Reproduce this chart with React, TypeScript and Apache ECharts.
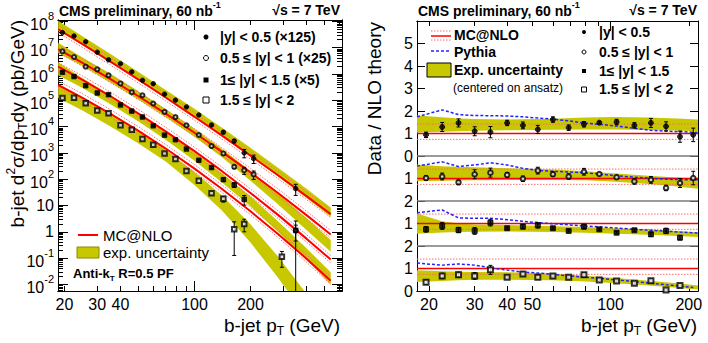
import React, { useEffect, useRef } from 'react';
import * as echarts from 'echarts';

// ---------------- data ----------------
// pT bin centres (GeV)
const binPt = [19.5, 22.5, 26, 30, 34.5, 40, 46, 52.5, 60, 69, 79, 90.5, 105.5, 123.5, 143, 163.5, 185, 208];

// Left panel: b-jet cross sections (pb/GeV), scaled as in legend
const ptS1 = [19.5, 22.5, 26, 30, 34.5, 40, 46, 52.5, 60, 69, 79, 90.5, 105.5, 123.5, 143, 163.5, 185, 208, 350];
const xsS1 = [3.74e7, 2.77e7, 1.67e7, 6.68e6, 3.44e6, 2.46e6, 1.2e6, 5.73e5, 4.25e5, 1.71e5, 1.01e5, 5.57e4, 2.75e4, 1.15e4, 6.1e3, 2.82e3, 998, 607, 44];
const errS1 = [0.05, 0.06, 0.06, 0.08, 0.08, 0.06, 0.08, 0.08, 0.06, 0.08, 0.08, 0.06, 0.08, 0.1, 0.12, 0.15, 0.35, 0.35, 0.45];

const ptS2 = [19.5, 22.5, 26, 30, 34.5, 40, 46, 52.5, 60, 69, 79, 90.5, 105.5, 123.5, 143, 163.5, 185, 208, 350];
const xsS2 = [7.23e6, 4.41e6, 1.88e6, 1.5e6, 8.85e5, 4.36e5, 2.03e5, 1.55e5, 7.52e4, 3.62e4, 2.3e4, 1.12e4, 4.78e3, 1.81e3, 948, 296, 218, 151, 1.12];
const errS2 = [0.05, 0.06, 0.06, 0.08, 0.08, 0.06, 0.08, 0.08, 0.06, 0.08, 0.08, 0.06, 0.06, 0.1, 0.12, 0.15, 0.3, 0.35, 1.3];

const ptS3 = [19.5, 22.5, 26, 30, 34.5, 40, 46, 52.5, 60, 69, 79, 90.5, 105.5, 123.5, 143, 163.5, 185, 350];
const xsS3 = [1.15e6, 7.94e5, 3.57e5, 1.89e5, 1.63e5, 6.61e4, 3.87e4, 2.31e4, 1.07e4, 4.72e3, 3.16e3, 1.4e3, 524, 276, 96, 60.5, 17.1, 1.12];
const errS3 = [0.08, 0.08, 0.08, 0.1, 0.1, 0.06, 0.08, 0.08, 0.06, 0.06, 0.08, 0.06, 0.08, 0.1, 0.15, 0.2, 0.4, 0.6];

const ptS4 = [19.5, 22.5, 26, 30, 34.5, 40, 46, 52.5, 60, 69, 79, 90.5, 105.5, 123.5, 143, 163.5, 185, 295];
const xsS4 = [1.23e5, 1.25e5, 7.67e4, 4.06e4, 3.21e4, 1.12e4, 7.59e3, 3.39e3, 2.02e3, 951, 583, 203, 86.5, 29.5, 17.9, 1.26, 2.0, 0.112];
const errS4 = [0.1, 0.1, 0.1, 0.12, 0.12, 0.06, 0.08, 0.1, 0.08, 0.08, 0.12, 0.1, 0.1, 0.15, 0.25, 0.9, 0.5, 0.6];

// MC@NLO predictions (scaled) at curve nodes
const mcPt = [18.5, 25, 35, 50, 70, 100, 140, 200, 280, 400, 540];
const mcS1 = [5.0e7, 1.36e7, 3.05e6, 6.07e5, 1.27e5, 2.35e4, 4.6e3, 785, 144, 22.7, 4.7];
const mcS2 = [8.7e6, 2.65e6, 6.6e5, 1.42e5, 3.1e4, 5.8e3, 1.12e3, 182, 30.6, 4.3, 0.79];
const mcS3 = [1.9e6, 5.9e5, 1.48e5, 3.12e4, 6.6e3, 1.16e3, 206, 30, 4.5, 0.55, 0.088];
const mcS4 = [3.8e5, 1.24e5, 3.2e4, 6.9e3, 1.46e3, 252, 43.5, 6.0, 0.85, 0.095, 0.0138];
// MC@NLO theory uncertainty (dotted lines), relative
const mcUncUp = 1.42;
const mcUncDown = 0.74;

// Left panel exp. uncertainty band, relative to MC@NLO at mcPt nodes
const bandLoS1 = [0.85, 0.95, 0.95, 0.95, 0.95, 0.95, 0.95, 0.95, 0.9, 0.85, 0.8];
const bandHiS1 = [2.1, 2.0, 1.95, 1.95, 1.95, 2.0, 2.0, 2.0, 1.95, 1.9, 1.8];
const bandLoS2 = [0.72, 0.75, 0.75, 0.75, 0.75, 0.7, 0.62, 0.48, 0.37, 0.27, 0.22];
const bandHiS2 = [1.75, 1.6, 1.6, 1.55, 1.5, 1.42, 1.3, 1.12, 0.95, 0.78, 0.62];
const bandLoS3 = [0.47, 0.5, 0.5, 0.5, 0.48, 0.43, 0.37, 0.31, 0.23, 0.16, 0.11];
const bandHiS3 = [1.45, 1.15, 1.1, 1.05, 1.0, 0.92, 0.84, 0.74, 0.57, 0.43, 0.33];
const bandLoS4 = [0.32, 0.33, 0.33, 0.33, 0.32, 0.24, 0.15, 0.065, 0.022, 0.006, 0.0012];
const bandHiS4 = [1.0, 1.0, 0.98, 0.95, 0.9, 0.75, 0.56, 0.32, 0.14, 0.046, 0.018];

// Right panel: Data / NLO ratios
const ratio1 = [0.94, 1.29, 1.47, 1.10, 1.06, 1.47, 1.36, 1.18, 1.62, 1.26, 1.41, 1.48, 1.51, 1.36, 1.47, 1.32, 0.86, 0.94];
const ratioErr1 = [0.12, 0.2, 0.18, 0.2, 0.25, 0.12, 0.15, 0.18, 0.12, 0.12, 0.12, 0.06, 0.12, 0.12, 0.2, 0.2, 0.25, 0.3];
const ratio2 = [1.02, 1.09, 0.83, 1.19, 1.26, 1.16, 0.99, 1.35, 1.19, 1.09, 1.30, 1.20, 1.06, 0.87, 0.94, 0.58, 0.80, 1.02];
const ratioErr2 = [0.1, 0.15, 0.1, 0.2, 0.2, 0.1, 0.12, 0.15, 0.1, 0.12, 0.15, 0.05, 0.05, 0.12, 0.15, 0.12, 0.2, 0.3];
const ratio3 = [0.74, 0.89, 0.71, 0.67, 1.04, 0.79, 0.86, 0.92, 0.79, 0.67, 0.86, 0.74, 0.59, 0.70, 0.52, 0.67, 0.37];
const ratioErr3 = [0.12, 0.15, 0.12, 0.15, 0.15, 0.05, 0.1, 0.12, 0.05, 0.05, 0.1, 0.05, 0.05, 0.05, 0.1, 0.12, 0.1];
const ratio4 = [0.39, 0.67, 0.72, 0.67, 0.94, 0.61, 0.76, 0.61, 0.67, 0.61, 0.72, 0.49, 0.45, 0.35, 0.46, 0.04, 0.24];
const ratioErr4 = [0.1, 0.12, 0.12, 0.15, 0.2, 0.05, 0.08, 0.1, 0.05, 0.05, 0.1, 0.05, 0.05, 0.05, 0.08, 0.05, 0.08];

// Pythia / NLO
const pythiaPt = [18, 22.5, 26, 30, 34.5, 40, 46, 52.5, 60, 69, 79, 90.5, 105.5, 123.5, 143, 163.5, 185, 208, 217];
const pythia1 = [1.74, 2.05, 1.84, 1.8, 1.79, 1.78, 1.74, 1.69, 1.64, 1.56, 1.47, 1.41, 1.33, 1.23, 1.14, 1.1, 1.08, 1.06, 1.05];
const pythia2 = [1.55, 1.74, 1.53, 1.6, 1.7, 1.6, 1.45, 1.36, 1.32, 1.29, 1.26, 1.2, 1.12, 1.06, 1.01, 0.97, 0.95, 0.94, 0.94];
const pythia3 = [1.48, 1.6, 1.25, 1.23, 1.23, 1.17, 1.1, 1.04, 0.99, 0.94, 0.89, 0.85, 0.8, 0.74, 0.7, 0.66, 0.62, 0.59, 0.58];
const pythia4 = [1.24, 1.15, 1.2, 1.15, 1.03, 0.93, 0.84, 0.8, 0.74, 0.67, 0.62, 0.56, 0.49, 0.42, 0.35, 0.28, 0.22, 0.16];

// Right panel exp. uncertainty band (centred on ansatz)
const rBandPt = [18, 22.5, 26, 30, 40, 60, 80, 105, 140, 180, 217];
const rBandLo1 = [1.05, 1.08, 1.1, 1.12, 1.14, 1.17, 1.18, 1.18, 1.16, 1.13, 1.1];
const rBandHi1 = [1.8, 1.72, 1.67, 1.64, 1.62, 1.66, 1.71, 1.73, 1.71, 1.67, 1.62];
const rBandLo2 = [0.88, 0.9, 0.91, 0.92, 0.93, 0.93, 0.92, 0.86, 0.76, 0.65, 0.55];
const rBandHi2 = [1.62, 1.55, 1.52, 1.5, 1.46, 1.4, 1.32, 1.22, 1.12, 1.05, 1.0];
const rBandLo3 = [0.55, 0.6, 0.62, 0.63, 0.64, 0.62, 0.59, 0.55, 0.5, 0.45, 0.4];
const rBandHi3 = [1.45, 1.1, 1.0, 0.96, 0.93, 0.88, 0.84, 0.79, 0.73, 0.67, 0.6];
const rBandLo4 = [0.4, 0.45, 0.48, 0.5, 0.5, 0.48, 0.42, 0.34, 0.24, 0.14, 0.07];
const rBandHi4 = [0.92, 0.88, 0.86, 0.85, 0.83, 0.78, 0.68, 0.58, 0.46, 0.35, 0.25];

// Axis ticks / labels
const leftXLabels = [20, 30, 40, 100, 200];
const leftXMajor = [100];
const leftXMinor = [20, 30, 40, 50, 60, 70, 80, 90, 200, 300, 400, 500, 600];
const rightXLabels = [20, 30, 40, 50, 100, 200];
const rightXMajor = [100];
const rightXMinor = [20, 30, 40, 50, 60, 70, 80, 90, 200];
const leftYDecades = [-2, -1, 0, 1, 2, 3, 4, 5, 6, 7, 8];
const ratioPanelLabels = ['0', '1', '2', '1', '2', '1', '0', '1', '2', '3', '4', '5', ''];

// ---------------- helpers ----------------
const L = Math.log10;
const FONT = "'Liberation Sans', Arial, Helvetica, sans-serif";
const YELLOW = '#c8c800';
const RED = '#ff0000';
const PINK = '#ff6a6a';
const BLUE = '#2222ff';

const LX_MIN = 1.2661, LX_MAX = 2.793, LY_MIN = -2.25, LY_MAX = 8.05;
const RX_MIN = L(18), RX_MAX = L(217);

function lineSeries(xi: number, yi: number, pts: number[][], color: string, width: number, type: any, z = 3) {
  return {
    type: 'line', xAxisIndex: xi, yAxisIndex: yi, data: pts, symbol: 'none', showSymbol: false,
    silent: true, clip: true, z, lineStyle: { color, width, type }, animation: false,
  };
}

function bandSeries(xi: number, yi: number, pts: number[][], color: string) {
  return {
    type: 'custom', xAxisIndex: xi, yAxisIndex: yi, clip: true, silent: true, z: 1,
    data: [[pts[1][0], pts[1][1]]],
    renderItem: (_p: any, api: any) => {
      const up = pts.map((p) => api.coord([p[0], p[2]]));
      const lo = pts.map((p) => api.coord([p[0], p[1]])).reverse();
      return { type: 'polygon', shape: { points: up.concat(lo) }, style: { fill: color } };
    },
  };
}

function errSeries(xi: number, yi: number, pts: number[][]) {
  return {
    type: 'custom', xAxisIndex: xi, yAxisIndex: yi, clip: true, silent: true, z: 4,
    data: pts, encode: { x: 0, y: [1, 2] },
    renderItem: (_p: any, api: any) => {
      const x = api.value(0), lo = api.value(1), hi = api.value(2);
      const a = api.coord([x, lo]), b = api.coord([x, hi]);
      const st = { stroke: '#000', lineWidth: 1 };
      return {
        type: 'group', children: [
          { type: 'line', shape: { x1: a[0], y1: a[1], x2: b[0], y2: b[1] }, style: st },
          { type: 'line', shape: { x1: a[0] - 2, y1: a[1], x2: a[0] + 2, y2: a[1] }, style: st },
          { type: 'line', shape: { x1: b[0] - 2, y1: b[1], x2: b[0] + 2, y2: b[1] }, style: st },
        ],
      };
    },
  };
}

function scatterSeries(xi: number, yi: number, pts: number[][], symbol: string, size: number) {
  return {
    type: 'scatter', xAxisIndex: xi, yAxisIndex: yi, data: pts, symbol, symbolSize: size, silent: true, z: 5,
    itemStyle: { color: '#000', borderColor: '#000', borderWidth: 1 },
  };
}

function xAxes(grid: number, min: number, max: number, labels: number[], major: number[], minor: number[]) {
  const base = {
    type: 'value', gridIndex: grid, min, max, splitLine: { show: false },
    axisLine: { show: true, onZero: false, lineStyle: { color: '#000', width: 1 } },
  };
  const maj = { show: true, inside: true, length: 10, customValues: major.map(L), lineStyle: { color: '#000' } };
  const mnr = { show: true, inside: true, length: 5, customValues: minor.map(L), lineStyle: { color: '#000' } };
  return [
    {
      ...base, position: 'bottom', axisTick: maj,
      axisLabel: {
        show: true, customValues: labels.map(L), formatter: (v: number) => String(Math.round(Math.pow(10, v))),
        fontSize: 16, color: '#000', margin: 5, fontFamily: FONT,
      },
    },
    { ...base, position: 'bottom', axisTick: mnr, axisLabel: { show: false } },
    { ...base, position: 'top', axisTick: maj, axisLabel: { show: false } },
    { ...base, position: 'top', axisTick: mnr, axisLabel: { show: false } },
  ];
}

function buildOption() {
  // ---- left panel axes ----
  const yMinor: number[] = [];
  for (let n = -3; n <= 8; n++) for (let k = 2; k <= 9; k++) {
    const v = L(k) + n;
    if (v > LY_MIN && v < LY_MAX) yMinor.push(v);
  }
  const yBase = {
    type: 'value', gridIndex: 0, min: LY_MIN, max: LY_MAX, splitLine: { show: false },
    axisLine: { show: true, onZero: false, lineStyle: { color: '#000', width: 1 } },
  };
  const yMaj = { show: true, inside: true, length: 10, customValues: leftYDecades, lineStyle: { color: '#000' } };
  const yMin = { show: true, inside: true, length: 5, customValues: yMinor, lineStyle: { color: '#000' } };
  const leftY = [
    {
      ...yBase, position: 'left', axisTick: yMaj,
      axisLabel: {
        show: true, customValues: leftYDecades, margin: 4, color: '#000', fontSize: 16, fontFamily: FONT,
        formatter: (v: number) => {
          const n = Math.round(v);
          if (n === 0) return '1';
          if (n === 1) return '10';
          return '{b|10}{s|' + n + '}';
        },
        rich: {
          b: { fontSize: 16, lineHeight: 22, verticalAlign: 'bottom', fontFamily: FONT, color: '#000' },
          s: { fontSize: 11, lineHeight: 22, verticalAlign: 'top', fontFamily: FONT, color: '#000' },
        },
      },
    },
    { ...yBase, position: 'left', axisTick: yMin, axisLabel: { show: false } },
    { ...yBase, position: 'right', axisTick: yMaj, axisLabel: { show: false } },
    { ...yBase, position: 'right', axisTick: yMin, axisLabel: { show: false } },
  ];

  const rightYBase = {
    type: 'value', gridIndex: 1, min: 0, max: 12, interval: 1, splitLine: { show: false },
    axisLine: { show: true, onZero: false, lineStyle: { color: '#000', width: 1 } },
    axisTick: { show: true, inside: true, length: 8, lineStyle: { color: '#000' } },
  };
  const rightY = [
    {
      ...rightYBase, position: 'left',
      axisLabel: {
        show: true, margin: 4, color: '#000', fontSize: 16, fontFamily: FONT,
        formatter: (v: number) => ratioPanelLabels[Math.round(v)] ?? '',
      },
    },
    { ...rightYBase, position: 'right', axisLabel: { show: false } },
  ];

  const series: any[] = [];

  // ---- left panel ----
  const leftSets = [
    { pt: ptS1, xs: xsS1, err: errS1, mc: mcS1, lo: bandLoS1, hi: bandHiS1, sym: 'circle', size: 4.5 },
    { pt: ptS2, xs: xsS2, err: errS2, mc: mcS2, lo: bandLoS2, hi: bandHiS2, sym: 'emptyCircle', size: 4 },
    { pt: ptS3, xs: xsS3, err: errS3, mc: mcS3, lo: bandLoS3, hi: bandHiS3, sym: 'rect', size: 4.5 },
    { pt: ptS4, xs: xsS4, err: errS4, mc: mcS4, lo: bandLoS4, hi: bandHiS4, sym: 'emptyRect', size: 4.5 },
  ];
  leftSets.forEach((s) => {
    series.push(bandSeries(0, 0, mcPt.map((p, i) => [L(p), L(s.mc[i] * s.lo[i]), L(s.mc[i] * s.hi[i])]), YELLOW));
  });
  leftSets.forEach((s) => {
    series.push(lineSeries(0, 0, mcPt.map((p, i) => [L(p), L(s.mc[i] * mcUncUp)]), PINK, 1, [1.5, 1.5]));
    series.push(lineSeries(0, 0, mcPt.map((p, i) => [L(p), L(s.mc[i] * mcUncDown)]), PINK, 1, [1.5, 1.5]));
    series.push(lineSeries(0, 0, mcPt.map((p, i) => [L(p), L(s.mc[i])]), RED, 2, 'solid'));
  });
  leftSets.forEach((s) => {
    series.push(errSeries(0, 0, s.pt.map((p, i) => {
      const v = s.xs[i], e = s.err[i];
      return [L(p), e >= 1 ? -3 : L(v * (1 - e)), L(v * (1 + e))];
    })));
    series.push(scatterSeries(0, 0, s.pt.map((p, i) => [L(p), L(s.xs[i])]), s.sym, s.size));
  });

  // ---- right panel ----
  const rightSets = [
    { off: 6, r: ratio1, e: ratioErr1, py: pythia1, lo: rBandLo1, hi: rBandHi1, sym: 'circle', size: 5 },
    { off: 4, r: ratio2, e: ratioErr2, py: pythia2, lo: rBandLo2, hi: rBandHi2, sym: 'emptyCircle', size: 4.5 },
    { off: 2, r: ratio3, e: ratioErr3, py: pythia3, lo: rBandLo3, hi: rBandHi3, sym: 'rect', size: 5 },
    { off: 0, r: ratio4, e: ratioErr4, py: pythia4, lo: rBandLo4, hi: rBandHi4, sym: 'emptyRect', size: 5 },
  ];
  rightSets.forEach((s) => {
    series.push(bandSeries(4, 4, rBandPt.map((p, i) => [L(p), s.lo[i] + s.off, s.hi[i] + s.off]), YELLOW));
  });
  [2, 4, 6].forEach((v) => {
    series.push(lineSeries(4, 4, [[RX_MIN, v], [RX_MAX, v]], '#7a7a7a', 1.5, 'solid', 2));
  });
  rightSets.forEach((s) => {
    series.push(lineSeries(4, 4, [[RX_MIN, s.off + mcUncUp], [RX_MAX, s.off + mcUncUp]], PINK, 1, [1.5, 1.5]));
    series.push(lineSeries(4, 4, [[RX_MIN, s.off + mcUncDown], [RX_MAX, s.off + mcUncDown]], PINK, 1, [1.5, 1.5]));
    series.push(lineSeries(4, 4, [[RX_MIN, s.off + 1], [RX_MAX, s.off + 1]], RED, 1.5, 'solid'));
    series.push(lineSeries(4, 4, s.py.map((v, i) => [L(pythiaPt[i]), v + s.off]), BLUE, 1.5, [3, 2]));
  });
  rightSets.forEach((s) => {
    series.push(errSeries(4, 4, s.r.map((v, i) => [L(binPt[i]), v - s.e[i] + s.off, v + s.e[i] + s.off])));
    series.push(scatterSeries(4, 4, s.r.map((v, i) => [L(binPt[i]), v + s.off]), s.sym, s.size));
  });

  // ---- graphic (texts, legends) ----
  const tx = (x: number, y: number, text: string, size: number, weight: string, align = 'left', extra: any = {}) => ({
    type: 'text', x, y, silent: true, z: 100,
    style: { text, fontSize: size, fontWeight: weight, fontFamily: FONT, fill: '#000', align, verticalAlign: 'middle', ...extra },
  });
  const hdrRich = {
    t: { fontSize: 14, fontWeight: 'bold', lineHeight: 18, verticalAlign: 'bottom', fontFamily: FONT, fill: '#000' },
    s: { fontSize: 9, fontWeight: 'bold', lineHeight: 18, verticalAlign: 'top', fontFamily: FONT, fill: '#000' },
  };
  const titleRich = (size: number, weight = 'normal') => ({
    a: { fontSize: size, fontWeight: weight, lineHeight: size + 5, verticalAlign: 'middle', fontFamily: FONT, fill: '#000' },
    sub: { fontSize: Math.round(size * 0.65), fontWeight: weight, lineHeight: size + 5, verticalAlign: 'bottom', fontFamily: FONT, fill: '#000' },
    sup: { fontSize: Math.round(size * 0.65), fontWeight: weight, lineHeight: size + 5, verticalAlign: 'top', fontFamily: FONT, fill: '#000' },
  });
  const ln = (x1: number, y1: number, x2: number, y2: number, stroke: string, w: number, dash?: number[]) => ({
    type: 'line', silent: true, z: 100, shape: { x1, y1, x2, y2 }, style: { stroke, lineWidth: w, lineDash: dash },
  });

  const graphic: any[] = [
    // headers
    tx(59, 9, '{t|CMS preliminary, 60 nb}{s|-1}', 14, 'bold', 'left', { rich: hdrRich }),
    tx(340, 10, '√s = 7 TeV', 14, 'bold', 'right'),
    tx(418, 9, '{t|CMS preliminary, 60 nb}{s|-1}', 14, 'bold', 'left', { rich: hdrRich }),
    tx(697, 10, '√s = 7 TeV', 14, 'bold', 'right'),
    // axis titles
    tx(340, 325, '{a|b-jet p}{sub|T}{a| (GeV)}', 19, 'normal', 'right', { rich: titleRich(19) }),
    tx(697, 325, '{a|b-jet p}{sub|T}{a| (GeV)}', 19, 'normal', 'right', { rich: titleRich(19) }),
    { ...tx(17, 20, '{a|b-jet d}{sup|2}{a|σ/dp}{sub|T}{a|dy (pb/GeV)}', 19, 'normal', 'right', { rich: titleRich(19) }), rotation: Math.PI / 2 },
    { ...tx(374, 22, 'Data / NLO theory', 19, 'normal', 'right'), rotation: Math.PI / 2 },
    // left legend (rapidity bins)
    { type: 'circle', silent: true, z: 100, shape: { cx: 206, cy: 37, r: 2.5 }, style: { fill: '#000' } },
    { type: 'circle', silent: true, z: 100, shape: { cx: 206, cy: 58, r: 2.5 }, style: { fill: '#fff', stroke: '#000', lineWidth: 1 } },
    { type: 'rect', silent: true, z: 100, shape: { x: 203.5, y: 77.5, width: 5, height: 5 }, style: { fill: '#000' } },
    { type: 'rect', silent: true, z: 100, shape: { x: 203, y: 97, width: 6, height: 6 }, style: { fill: '#fff', stroke: '#000', lineWidth: 1 } },
    tx(220, 37, '|y| < 0.5 (×125)', 14, 'bold'),
    tx(220, 58, '0.5 ≤ |y| < 1 (×25)', 14, 'bold'),
    tx(220, 80, '1≤ |y| < 1.5 (×5)', 14, 'bold'),
    tx(220, 100, '1.5 ≤ |y| < 2', 14, 'bold'),
    // left bottom legend
    ln(78, 235, 98, 235, RED, 2),
    tx(103, 235, 'MC@NLO', 15, 'normal'),
    { type: 'rect', silent: true, z: 100, shape: { x: 77, y: 247, width: 22, height: 11 }, style: { fill: YELLOW, stroke: '#8a8a00', lineWidth: 1 } },
    tx(103, 252, 'exp. uncertainty', 15, 'normal'),
    tx(73, 273, '{a|Anti-k}{sub|T}{a| R=0.5 PF}', 13, 'bold', 'left', { rich: titleRich(13, 'bold') }),
    // right legend (left block)
    ln(431, 31, 451, 31, PINK, 1, [1.5, 1.5]),
    ln(431, 36, 451, 36, RED, 1.5),
    ln(431, 40, 451, 40, PINK, 1, [1.5, 1.5]),
    tx(454, 35, 'MC@NLO', 14, 'bold'),
    ln(431, 51, 451, 51, BLUE, 1.5, [3, 2]),
    tx(454, 52, 'Pythia', 14, 'bold'),
    { type: 'rect', silent: true, z: 100, shape: { x: 427, y: 63, width: 24, height: 14 }, style: { fill: YELLOW, stroke: '#000', lineWidth: 1 } },
    tx(454, 70, 'Exp. uncertainty', 14, 'bold'),
    tx(453, 88, '(centered on ansatz)', 12, 'normal'),
    // right legend (rapidity bins)
    { type: 'circle', silent: true, z: 100, shape: { cx: 584, cy: 32, r: 2 }, style: { fill: '#000' } },
    { type: 'circle', silent: true, z: 100, shape: { cx: 584, cy: 52, r: 2 }, style: { fill: '#fff', stroke: '#000', lineWidth: 1 } },
    { type: 'rect', silent: true, z: 100, shape: { x: 582, y: 69, width: 4, height: 4 }, style: { fill: '#000' } },
    { type: 'rect', silent: true, z: 100, shape: { x: 581.5, y: 87, width: 5, height: 5 }, style: { fill: '#fff', stroke: '#000', lineWidth: 1 } },
    tx(599, 32, '|y| < 0.5', 14, 'bold'),
    tx(599, 52, '0.5 ≤ |y| < 1', 14, 'bold'),
    tx(599, 71, '1≤ |y| < 1.5', 14, 'bold'),
    tx(599, 89, '1.5 ≤ |y| < 2', 14, 'bold'),
  ];

  return {
    animation: false,
    backgroundColor: '#fff',
    textStyle: { fontFamily: FONT },
    grid: [
      { left: 58, top: 20, width: 284, height: 271, outerBoundsMode: 'none', containLabel: false },
      { left: 417, top: 21, width: 281, height: 270, outerBoundsMode: 'none', containLabel: false },
    ],
    xAxis: [
      ...xAxes(0, LX_MIN, LX_MAX, leftXLabels, leftXMajor, leftXMinor),
      ...xAxes(1, RX_MIN, RX_MAX, rightXLabels, rightXMajor, rightXMinor),
    ],
    yAxis: [...leftY, ...rightY],
    series,
    graphic,
  };
}

export default function App() {
  const ref = useRef<HTMLDivElement>(null);
  useEffect(() => {
    if (!ref.current) return;
    const chart = echarts.init(ref.current, undefined, { renderer: 'svg' });
    chart.setOption(buildOption() as any);
    return () => chart.dispose();
  }, []);
  return <div ref={ref} style={{ position: 'absolute', left: 0, top: 0, width: 708, height: 343, background: '#fff' }} />;
}
